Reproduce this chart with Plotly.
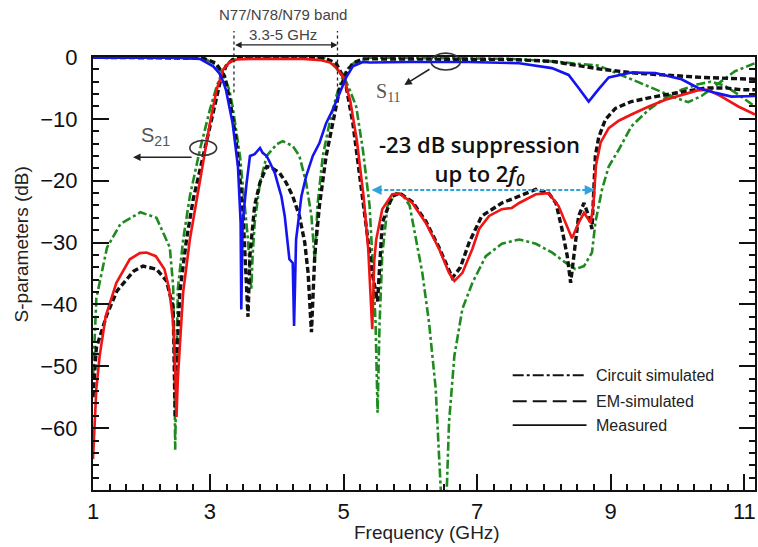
import plotly.graph_objects as go

# ---------------- data (GHz, dB) ----------------
meas_s21_f = [1.25, 1.30, 1.35, 1.44, 1.60, 1.80, 1.95, 2.05, 2.19, 2.32, 2.39, 2.45, 2.48, 2.50,
              2.52, 2.55, 2.60, 2.70, 2.80, 2.90, 3.00, 3.10, 3.20, 3.30, 3.40, 3.60, 4.00, 4.40,
              4.65, 4.80, 4.90, 5.00, 5.10, 5.20, 5.30, 5.37, 5.43, 5.46, 5.49, 5.58, 5.73, 5.84,
              6.03, 6.23, 6.43, 6.58, 6.66, 6.78, 6.93, 7.03, 7.18, 7.37, 7.52, 7.63, 7.88, 8.07,
              8.22, 8.33, 8.42, 8.52, 8.60, 8.70, 8.74, 8.78, 8.85, 8.97, 9.12, 9.31, 9.57, 9.82,
              10.06, 10.30, 10.46, 10.66, 10.91, 11.16]
meas_s21 = [-65.0, -53.6, -48.3, -41.9, -36.5, -32.7, -31.7, -31.6, -32.2, -34.3, -37.5, -42.9, -50.0, -58.2,
            -52.0, -46.0, -38.0, -29.5, -23.0, -16.5, -10.7, -5.3, -2.0, -0.8, -0.4, -0.3, -0.3, -0.3,
            -0.5, -0.9, -1.8, -3.3, -7.0, -13.5, -22.5, -31.0, -44.0, -33.0, -29.5, -24.6, -22.2, -22.1,
            -23.6, -26.8, -31.0, -34.9, -36.2, -34.9, -31.0, -27.8, -25.7, -24.6, -24.4, -23.6, -22.2, -22.0,
            -24.1, -26.8, -29.3, -26.8, -25.2, -26.8, -24.0, -17.5, -13.8, -11.5, -10.3, -9.3, -8.0, -6.9,
            -6.1, -5.4, -5.3, -6.4, -8.0, -9.3]

meas_s11_f = [1.25, 2.50, 2.85, 3.05, 3.14, 3.20, 3.24, 3.34, 3.42, 3.46, 3.47, 3.49, 3.55, 3.60,
              3.67, 3.75, 3.79, 3.85, 3.90, 3.97, 4.04, 4.07, 4.12, 4.16, 4.19, 4.24, 4.26, 4.29,
              4.32, 4.37, 4.44, 4.54, 4.64, 4.74, 4.84, 4.94, 5.04, 5.14, 5.29, 5.39, 6.00, 6.88,
              7.63, 8.12, 8.37, 8.52, 8.67, 8.82, 8.97, 9.31, 9.67, 10.06, 10.31, 10.57, 10.81, 11.16]
meas_s11 = [-0.1, -0.1, -0.3, -1.5, -2.6, -4.0, -5.3, -10.7, -17.7, -26.8, -40.8, -26.8, -20.3, -16.0,
            -15.7, -14.7, -15.5, -16.0, -17.1, -18.7, -21.4, -22.5, -25.7, -30.0, -32.7, -33.3, -43.5, -29.5,
            -26.8, -22.5, -19.3, -16.0, -13.9, -10.7, -8.5, -5.8, -3.3, -1.5, -0.8, -0.9, -0.8, -0.8,
            -1.0, -1.8, -2.9, -5.0, -7.2, -5.2, -3.3, -2.5, -2.6, -3.6, -5.0, -5.8, -6.4, -6.3]

em_s21_f = [1.25, 1.30, 1.46, 1.61, 1.86, 2.00, 2.20, 2.35, 2.45, 2.47, 2.48, 2.50, 2.55, 2.65,
            2.75, 2.90, 3.05, 3.15, 3.24, 3.34, 3.50, 4.00, 4.50, 4.75, 4.89, 4.99, 5.04, 5.14,
            5.24, 5.34, 5.43, 5.51, 5.55, 5.58, 5.73, 5.84, 6.03, 6.23, 6.43, 6.63, 6.75, 6.88,
            7.07, 7.37, 7.63, 7.88, 8.07, 8.18, 8.27, 8.35, 8.40, 8.45, 8.52, 8.60, 8.67, 8.72,
            8.77, 8.82, 8.92, 9.07, 9.31, 9.67, 10.06, 10.42, 10.72, 10.96, 11.16]
em_s21 = [-55.0, -47.0, -41.6, -37.8, -34.6, -33.8, -34.3, -36.2, -40.5, -50.0, -58.3, -50.0, -38.0, -29.5,
          -23.0, -16.0, -9.1, -4.2, -1.5, -0.4, -0.1, -0.1, -0.1, -0.3, -1.0, -3.1, -4.8, -10.7,
          -18.7, -26.8, -34.9, -39.5, -32.0, -26.8, -22.5, -22.0, -23.4, -26.5, -30.8, -35.7, -34.0, -30.0,
          -25.7, -23.6, -22.5, -21.4, -22.0, -23.6, -27.8, -32.2, -36.5, -32.2, -25.7, -23.6, -25.7, -27.8,
          -16.0, -13.0, -10.1, -8.3, -7.2, -6.4, -5.6, -5.0, -5.0, -5.3, -5.3]

em_s11_f = [1.25, 2.90, 3.09, 3.22, 3.30, 3.39, 3.49, 3.54, 3.57, 3.60, 3.67, 3.75, 3.85, 3.92,
            4.04, 4.14, 4.24, 4.34, 4.42, 4.47, 4.52, 4.57, 4.64, 4.74, 4.84, 4.94, 5.04, 5.14,
            5.30, 6.50, 7.50, 8.12, 8.87, 9.37, 9.87, 10.36, 11.16]
em_s11 = [-0.05, -0.2, -1.0, -3.1, -7.0, -13.3, -24.0, -34.9, -42.0, -32.0, -24.0, -20.3, -17.7, -17.9,
          -18.7, -20.3, -22.5, -25.7, -30.0, -34.9, -44.5, -32.0, -24.0, -16.0, -10.7, -5.3, -2.6, -1.0,
          -0.3, -0.3, -0.4, -0.7, -2.0, -2.6, -2.9, -3.3, -3.6]

cir_s21_f = [1.25, 1.30, 1.46, 1.66, 1.96, 2.20, 2.40, 2.45, 2.47, 2.48, 2.50, 2.52, 2.60, 2.70,
             2.85, 3.00, 3.10, 3.20, 3.30, 3.45, 4.00, 4.70, 4.84, 4.94, 5.04, 5.10, 5.19, 5.29,
             5.39, 5.43, 5.48, 5.51, 5.54, 5.58, 5.66, 5.79, 5.88, 5.99, 6.09, 6.18, 6.28, 6.38,
             6.43, 6.48, 6.53, 6.58, 6.66, 6.78, 6.93, 7.13, 7.37, 7.63, 7.88, 8.12, 8.32, 8.47,
             8.60, 8.72, 8.77, 8.87, 8.97, 9.12, 9.31, 9.57, 9.82, 10.06, 10.31, 10.50, 10.70, 10.90, 11.16]
cir_s21 = [-52.0, -39.0, -30.8, -27.0, -25.1, -26.0, -30.8, -37.0, -50.0, -63.5, -50.0, -37.5, -29.5, -22.5,
           -15.0, -8.5, -4.8, -2.0, -0.7, -0.1, -0.05, -0.1, -1.0, -2.6, -4.0, -5.5, -8.0, -15.0,
           -24.0, -32.0, -42.9, -57.5, -43.0, -32.0, -24.0, -22.0, -22.2, -24.0, -29.5, -34.9, -42.9, -53.6,
           -64.4, -75.0, -75.0, -59.0, -48.3, -40.7, -36.5, -32.2, -30.2, -29.5, -30.2, -31.6, -33.2, -34.3,
           -33.8, -31.6, -26.8, -21.4, -17.7, -15.0, -11.2, -8.5, -6.6, -5.3, -4.4, -4.0, -4.6, -6.0, -8.0]

cir_s11_f = [1.25, 2.90, 3.05, 3.20, 3.29, 3.34, 3.45, 3.52, 3.57, 3.60, 3.62, 3.64, 3.67, 3.75,
             3.85, 4.00, 4.09, 4.24, 4.34, 4.44, 4.52, 4.55, 4.57, 4.59, 4.61, 4.69, 4.79, 4.89,
             4.99, 5.09, 5.19, 5.40, 7.50, 8.12, 8.82, 9.31, 9.67, 9.97, 10.16, 10.36, 10.61, 10.86, 11.16]
cir_s11 = [-0.05, -0.2, -1.0, -2.6, -5.3, -8.0, -16.0, -24.0, -29.5, -34.9, -37.5, -32.0, -26.8, -20.3,
           -16.0, -14.1, -13.6, -14.4, -16.0, -20.3, -25.7, -30.0, -33.3, -29.0, -24.0, -16.0, -10.7, -6.4,
           -3.1, -1.5, -0.7, -0.1, -0.3, -0.7, -1.4, -3.6, -5.3, -6.6, -7.3, -6.3, -4.3, -2.3, -1.0]

x_tick_vals = [1.25, 3, 5, 7, 9, 11]
x_tick_text = ["1", "3", "5", "7", "9", "11"]
y_tick_vals = [0, -10, -20, -30, -40, -50, -60]
band_edges = [3.36, 4.91]
suppression_span = [5.42, 8.76]
suppression_level = -21.5

legend_labels = ["Circuit simulated", "EM-simulated", "Measured"]

# ---------------- styles ----------------
GREEN = "#1f8a1f"
BLACK = "#111111"
RED = "#f01414"
BLUE = "#1414f0"
CYAN = "#2ea3dc"
FONT = "Liberation Sans, Arial, sans-serif"
PX_PER_GHZ = 67.0

fig = go.Figure()


def add(x, y, color, dash, width):
    fig.add_trace(go.Scatter(x=x, y=y, mode="lines",
                             line=dict(color=color, dash=dash, width=width),
                             showlegend=False, hoverinfo="skip"))


DASHDOT = "9px,3px,3px,3px"
DASHED = "6px,3px"
add(cir_s21_f, cir_s21, GREEN, DASHDOT, 2.6)
add(cir_s11_f, cir_s11, GREEN, DASHDOT, 2.6)
add(em_s21_f, em_s21, BLACK, DASHED, 3.4)
add(em_s11_f, em_s11, BLACK, DASHED, 3.4)
add(meas_s21_f, meas_s21, RED, "solid", 2.6)
add(meas_s11_f, meas_s11, BLUE, "solid", 2.6)

shapes = []
ann = []

# band markers
for xe in band_edges:
    shapes.append(dict(type="line", xref="x", yref="paper", x0=xe, x1=xe, y0=0.918, y1=1.06,
                       line=dict(color="#222", width=1.3, dash="dot")))
ann.append(dict(xref="x", yref="paper", x=band_edges[1], y=1.028,
                ax=-(band_edges[1] - band_edges[0]) * PX_PER_GHZ,
                ay=0, axref="pixel", ayref="pixel", showarrow=True, arrowside="end+start",
                arrowhead=2, arrowsize=1, arrowwidth=1.3, arrowcolor="#222", text=""))
ann.append(dict(xref="x", yref="paper", x=4.1, y=1.099, xanchor="center", yanchor="middle",
                text="N77/N78/N79 band", showarrow=False,
                font=dict(family=FONT, size=15, color="#444")))
ann.append(dict(xref="x", yref="paper", x=4.1, y=1.052, xanchor="center", yanchor="middle",
                text="3.3-5 GHz", showarrow=False,
                font=dict(family=FONT, size=15, color="#444")))

# S21 marker
shapes.append(dict(type="circle", xref="x", yref="y", x0=2.70, x1=3.10, y0=-15.9, y1=-13.5,
                   line=dict(color="#333", width=1.6)))
ann.append(dict(xref="x", yref="y", x=1.85, y=-16.2, ax=60, ay=0, axref="pixel", ayref="pixel",
                showarrow=True, arrowhead=2, arrowsize=1, arrowwidth=1.5, arrowcolor="#222", text=""))
ann.append(dict(xref="x", yref="y", x=2.19, y=-12.9, xanchor="center", yanchor="middle",
                text="S<sub>21</sub>", showarrow=False,
                font=dict(family=FONT, size=20, color="#555")))

# S11 marker
shapes.append(dict(type="circle", xref="x", yref="paper", x0=6.31, x1=6.75, y0=0.970, y1=1.009,
                   line=dict(color="#333", width=1.6)))
ann.append(dict(xref="x", yref="y", x=5.91, y=-4.53, ax=26.7, ay=-16.7, axref="pixel", ayref="pixel",
                showarrow=True, arrowhead=2, arrowsize=1, arrowwidth=1.5, arrowcolor="#222", text=""))
ann.append(dict(xref="x", yref="y", x=5.67, y=-5.8, xanchor="center", yanchor="middle",
                text="S<sub>11</sub>", showarrow=False,
                font=dict(family="Liberation Serif, Times New Roman, serif", size=20, color="#555")))

# suppression annotation
ann.append(dict(xref="x", yref="y", x=7.04, y=-16.6, xanchor="center", yanchor="middle",
                text="-23 dB suppression<br>up to 2<i>f</i><sub><i>0</i></sub>", showarrow=False,
                font=dict(family="Open Sans, sans-serif", size=22, color="#111", weight=600)))
shapes.append(dict(type="line", xref="x", yref="y", x0=suppression_span[0] + 0.1, x1=suppression_span[1] - 0.1,
                   y0=suppression_level, y1=suppression_level, line=dict(color=CYAN, width=2, dash="4px,2px")))
for xa, off in [(suppression_span[0], 10), (suppression_span[1], -10)]:
    ann.append(dict(xref="x", yref="y", x=xa, y=suppression_level, ax=off, ay=0, axref="pixel", ayref="pixel",
                    showarrow=True, arrowhead=2, arrowsize=1, arrowwidth=2, arrowcolor=CYAN, text=""))

# manual legend
leg_rows = [0.265, 0.205, 0.150]
leg_dash = ["11px,3px,3px,3px", "14px,6px", "solid"]
for lab, yy, dsh in zip(legend_labels, leg_rows, leg_dash):
    shapes.append(dict(type="line", xref="paper", yref="paper", x0=0.634, x1=0.7455, y0=yy, y1=yy,
                       line=dict(color=BLACK, width=1.8, dash=dsh)))
    ann.append(dict(xref="paper", yref="paper", x=0.757, y=yy, xanchor="left", yanchor="middle",
                    text=lab, showarrow=False, font=dict(family=FONT, size=16, color="#222")))

# axis titles
ann.append(dict(xref="paper", yref="paper", x=0.5045, y=-0.099, text="Frequency (GHz)", showarrow=False,
                font=dict(family=FONT, size=19, color="#222"), xanchor="center", yanchor="middle"))
ann.append(dict(xref="paper", yref="paper", x=-0.108, y=0.566, text="S-parameters (dB)", showarrow=False,
                textangle=-90, font=dict(family=FONT, size=19, color="#222"),
                xanchor="center", yanchor="middle"))

fig.update_layout(
    width=758, height=547,
    margin=dict(l=93, r=1, t=57, b=57),
    paper_bgcolor="white", plot_bgcolor="white",
    font=dict(family=FONT, color="#111"),
    showlegend=False,
    shapes=shapes, annotations=ann,
    xaxis=dict(range=[1.25, 11.16], tickmode="array", tickvals=x_tick_vals, ticktext=x_tick_text,
               ticks="inside", ticklen=16, tickwidth=2, tickcolor=BLACK,
               showline=True, linewidth=2, linecolor=BLACK, mirror=True,
               showgrid=False, zeroline=False, tickfont=dict(size=22, color=BLACK),
               ticklabelstandoff=1,
               minor=dict(tick0=1, dtick=0.25, ticks="inside", ticklen=6, tickwidth=1.5,
                          tickcolor=BLACK, showgrid=False)),
    yaxis=dict(range=[-70, 0], tickmode="array", tickvals=y_tick_vals,
               ticks="inside", ticklen=16, tickwidth=2, tickcolor=BLACK,
               showline=True, linewidth=2, linecolor=BLACK, mirror="ticks",
               showgrid=False, zeroline=False, tickfont=dict(size=22, color=BLACK),
               ticklabelstandoff=9,
               minor=dict(tick0=0, dtick=2, ticks="inside", ticklen=6, tickwidth=1.5,
                          tickcolor=BLACK, showgrid=False)),
)

# remove the browser's default 8px body margin so the figure fills the window exactly
fig.write_html("out.html", config={"displayModeBar": False},
               post_script="document.body.style.margin='0';")
